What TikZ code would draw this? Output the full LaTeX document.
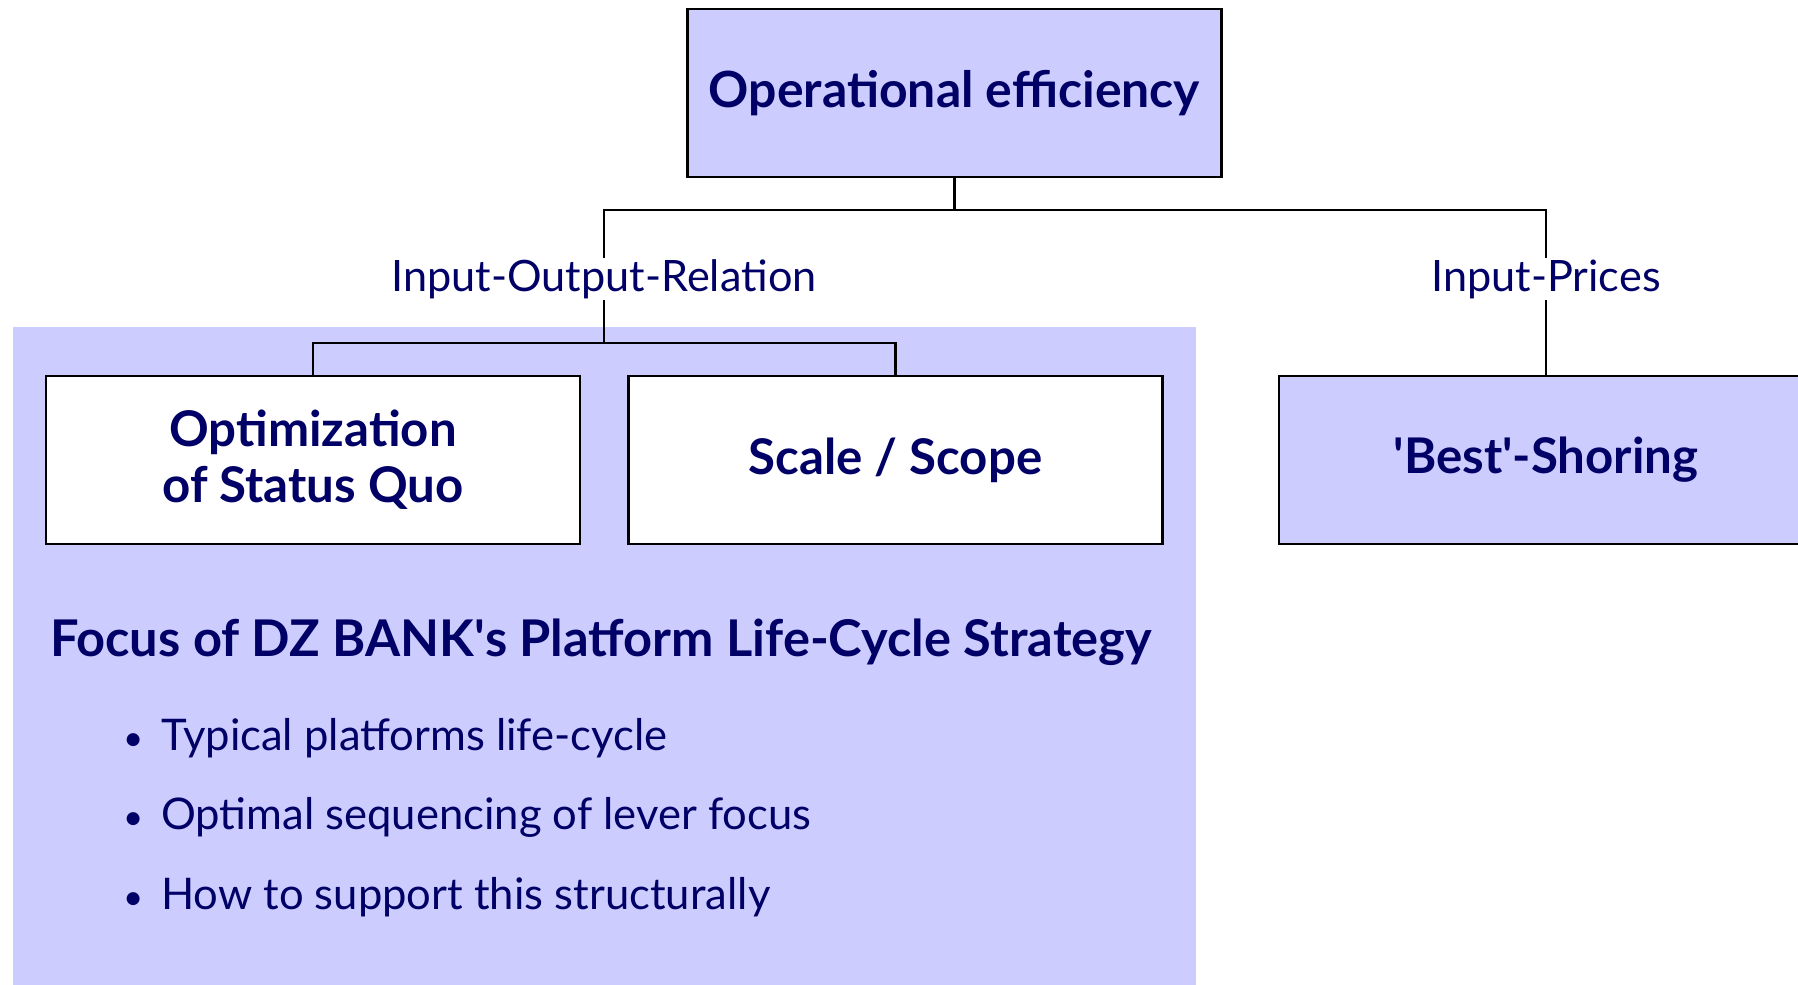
\documentclass[tikz,border=0pt]{standalone}
\usepackage{fontspec}
\setmainfont{Lato}
\usetikzlibrary{positioning}

\definecolor{lever}{HTML}{CCCCFF}
\definecolor{navy}{HTML}{000066}

\tikzset{
    box/.style={draw=black, line width=0.6pt, minimum width=5.34cm, minimum height=1.68cm,
        align=center, text=navy, font=\fontsize{14}{16}\selectfont\bfseries},
    branch/.style={text=navy, inner sep=0pt, minimum height=0.40cm,
        font=\fontsize{12.3}{15}\selectfont},
    item/.style={text=navy, anchor=west, inner sep=0pt, font=\fontsize{12.4}{15}\selectfont},
}

\begin{document}
\begin{tikzpicture}[line width=0.6pt]
    \useasboundingbox (0, 0) rectangle (17.98, -9.85);

    \fill [lever] (0.13, -3.27) rectangle (11.96, -9.85);

    \node [box, fill=lever, font=\fontsize{14.2}{17}\selectfont\bfseries] (top) at (9.545, -0.93) {Operational efficiency};

    \node [branch] (ior) at (6.04, -2.79) {Input-Output-Relation};
    \node [branch] (ip)  at (15.46, -2.79) {Input-Prices};

    \node [box, fill=white] (opt)   at (3.13, -4.60) {Optimization\\of Status Quo};
    \node [box, fill=white] (scale) at (8.955, -4.60) {Scale / Scope};
    \node [box, fill=lever] (best)  at (15.46, -4.60) {\textquotesingle Best\textquotesingle -Shoring};

    \coordinate (bus)    at (0, -2.10);
    \coordinate (lowbus) at (0, -3.43);

    \draw (top.south) -- (top.south |- bus);
    \draw (ior.north) |- (ip.north |- bus) -- (ip.north);
    \draw (ior.south) -- (ior.south |- lowbus);
    \draw (opt.north) |- (scale.north |- lowbus) -- (scale.north);
    \draw (ip.south) -- (ip.south |- best.north);

    \node [item, font=\fontsize{14.4}{17}\selectfont\bfseries] (focus) at (0.49, -6.42)
        {Focus of DZ BANK\textquotesingle s Platform Life-Cycle Strategy};

    \foreach \y/\txt [count=\i] in {-7.38/Typical platforms life-cycle,
            -8.17/Optimal sequencing of lever focus,
            -8.97/How to support this structurally} {
        \node [item] (item\i) at (1.22, \y) {\makebox[0.38cm][l]{\scalebox{0.8}{\textbullet}}\txt};
        }
\end{tikzpicture}
\end{document}
